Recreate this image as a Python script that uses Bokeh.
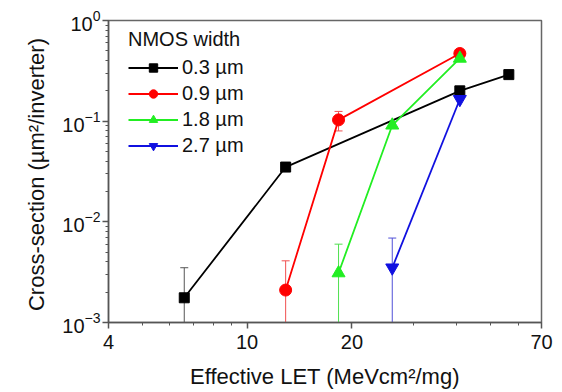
from bokeh.plotting import figure
from bokeh.models import (FixedTicker, PrintfTickFormatter, LogTickFormatter,
                          Whisker, ColumnDataSource, TeeHead)
from bokeh.embed import file_html
from bokeh.resources import INLINE

FONT = "Liberation Sans"

# ---- data ----
x_03 = [6.6, 12.9, 40.8, 56.4]
y_03 = [1.76e-3, 0.035, 0.20, 0.29]
x_09 = [12.9, 18.3, 40.8]
y_09 = [2.1e-3, 0.103, 0.47]
x_18 = [18.3, 26.1, 40.8]
y_18 = [3.1e-3, 0.091, 0.42]
x_27 = [26.1, 40.8]
y_27 = [3.5e-3, 0.165]

# error bars whose lower end runs off the bottom of the axis
err_x     = [6.6, 12.9, 18.3, 26.1]
err_upper = [3.5e-3, 4.1e-3, 6.0e-3, 6.9e-3]
err_lower = [1e-4, 1e-4, 1e-4, 1e-4]
err_color = ["#555555", "#f05050", "#50e050", "#5050d8"]
# small two-sided error bar (0.9 um, second point)
err2_x     = [18.3]
err2_upper = [0.125]
err2_lower = [0.080]
err2_color = ["#f05050"]

labels = ["0.3 \u00b5m", "0.9 \u00b5m", "1.8 \u00b5m", "2.7 \u00b5m"]
colors = ["#000000", "#ff0000", "#22ee22", "#1010e0"]
markers = ["square", "circle", "triangle", "inverted_triangle"]
sizes = [10, 12, 13, 13]

x_ticks = [4, 10, 20, 70]
x_minor = [5, 6, 7, 8, 9, 30, 40, 50, 60]
y_ticks = [1e-3, 1e-2, 1e-1, 1]
y_minor = [m * 10.0 ** e for e in (-3, -2, -1) for m in range(2, 10)]

p = figure(width=562, height=392, x_axis_type="log", y_axis_type="log",
           x_range=(4, 70), y_range=(1e-3, 1),
           output_backend="svg", toolbar_location=None,
           min_border_left=108, min_border_right=21,
           min_border_top=20, min_border_bottom=70)
p.xgrid.visible = False
p.ygrid.visible = False
p.outline_line_color = "#666666"
p.outline_line_width = 1.5

# error bars
src_e = ColumnDataSource(dict(x=err_x, u=err_upper, l=err_lower, c=err_color))
p.add_layout(Whisker(source=src_e, base="x", upper="u", lower="l",
                     dimension="height", line_color="c", line_width=1,
                     upper_head=TeeHead(size=8, line_color="c", line_width=1),
                     lower_head=None))
src_e2 = ColumnDataSource(dict(x=err2_x, u=err2_upper, l=err2_lower, c=err2_color))
p.add_layout(Whisker(source=src_e2, base="x", upper="u", lower="l",
                     dimension="height", line_color="c", line_width=1,
                     upper_head=TeeHead(size=8, line_color="c", line_width=1),
                     lower_head=TeeHead(size=8, line_color="c", line_width=1)))

series = [(x_03, y_03), (x_09, y_09), (x_18, y_18), (x_27, y_27)]
for (xs, ys), lab, col, mk, sz in zip(series, labels, colors, markers, sizes):
    p.line(xs, ys, line_color=col, line_width=1.8, legend_label=lab)
    p.scatter(xs, ys, marker=mk, size=sz, fill_color=col, line_color=col,
              legend_label=lab)

# axes
p.xaxis.ticker = FixedTicker(ticks=x_ticks, minor_ticks=x_minor)
p.xaxis.formatter = PrintfTickFormatter(format="%d")
p.yaxis.ticker = FixedTicker(ticks=y_ticks, minor_ticks=y_minor)
p.yaxis.formatter = LogTickFormatter()
for ax in (p.xaxis, p.yaxis):
    ax.axis_line_color = "#555555"
    ax.axis_line_width = 1.5
    ax.major_tick_line_color = "#555555"
    ax.minor_tick_line_color = "#555555"
    ax.major_tick_line_width = 1.5
    ax.major_tick_out = 6
    ax.major_tick_in = 0
    ax.minor_tick_out = 3
    ax.minor_tick_in = 0
    ax.major_label_text_font = FONT
    ax.major_label_text_font_size = "20px"
    ax.major_label_text_color = "#111111"
    ax.axis_label_text_font = FONT
    ax.axis_label_text_font_size = "22px"
    ax.axis_label_text_font_style = "normal"
    ax.axis_label_text_color = "#111111"
p.xaxis.axis_label = "Effective LET (MeVcm\u00b2/mg)"
p.yaxis.axis_label = "Cross-section  (\u00b5m\u00b2/inverter)"
p.xaxis.major_label_standoff = 6
p.xaxis.axis_label_standoff = 12
p.yaxis.major_label_standoff = 2
p.yaxis.axis_label_standoff = 10

# legend
lg = p.legend[0]
lg.location = (20, 165)
lg.title = "NMOS width"
lg.title_text_font = FONT
lg.title_text_font_size = "20px"
lg.title_text_font_style = "normal"
lg.title_text_color = "#111111"
lg.title_standoff = 5
lg.label_text_font = FONT
lg.label_text_font_size = "20px"
lg.label_text_color = "#111111"
lg.border_line_color = None
lg.background_fill_alpha = 0
lg.margin = 0
lg.padding = 0
lg.glyph_width = 50
lg.glyph_height = 21
lg.label_height = 21
lg.label_standoff = 4
lg.spacing = 3

open("out.html", "w").write(file_html(p, INLINE))
